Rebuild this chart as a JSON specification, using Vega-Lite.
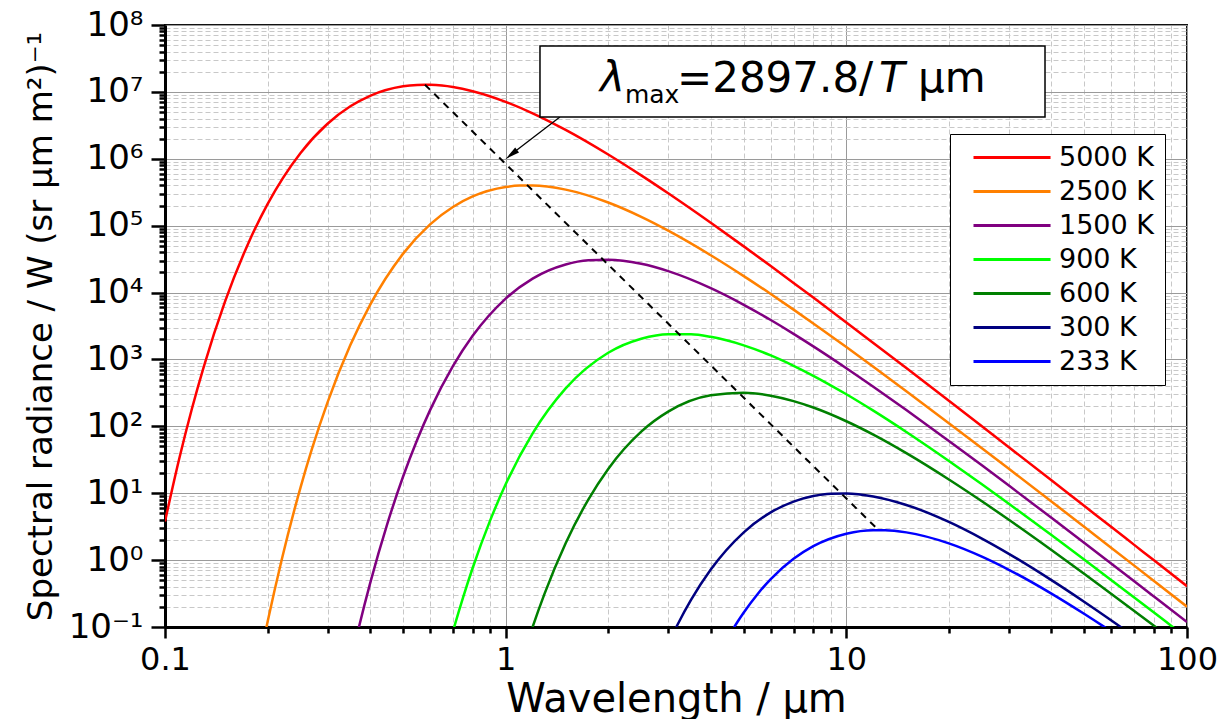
{
  "$schema": "https://vega.github.io/schema/vega-lite/v6.json",
  "width": 1022,
  "height": 602,
  "autosize": {"type": "none"},
  "padding": {"left": 165, "top": 25, "right": 44, "bottom": 92},
  "background": "white",
  "config": {
    "view": {"stroke": "#111111", "strokeWidth": 2},
    "font": "DejaVu Sans",
    "axis": {"labelFont": "DejaVu Sans", "titleFont": "DejaVu Sans", "labelColor": "black", "titleColor": "black", "titleFontWeight": "normal"}
  },
  "datasets": {
    "curves": [
      {"T": "5000 K", "lambda": 0.1, "B": 3.79},
      {"T": "5000 K", "lambda": 0.11, "B": 32.2},
      {"T": "5000 K", "lambda": 0.12, "B": 184.5},
      {"T": "5000 K", "lambda": 0.13, "B": 781.7},
      {"T": "5000 K", "lambda": 0.15, "B": 7310},
      {"T": "5000 K", "lambda": 0.175, "B": 52430},
      {"T": "5000 K", "lambda": 0.2, "B": 210000},
      {"T": "5000 K", "lambda": 0.25, "B": 1223000},
      {"T": "5000 K", "lambda": 0.3, "B": 3345000},
      {"T": "5000 K", "lambda": 0.35, "B": 6097000},
      {"T": "5000 K", "lambda": 0.4, "B": 8740000},
      {"T": "5000 K", "lambda": 0.5, "B": 12110000},
      {"T": "5000 K", "lambda": 0.55, "B": 12710000},
      {"T": "5000 K", "lambda": 0.58, "B": 12800000},
      {"T": "5000 K", "lambda": 0.6, "B": 12760000},
      {"T": "5000 K", "lambda": 0.65, "B": 12410000},
      {"T": "5000 K", "lambda": 0.7, "B": 11810000},
      {"T": "5000 K", "lambda": 0.8, "B": 10240000},
      {"T": "5000 K", "lambda": 1, "B": 7100000},
      {"T": "5000 K", "lambda": 1.2, "B": 4786000},
      {"T": "5000 K", "lambda": 1.5, "B": 2700000},
      {"T": "5000 K", "lambda": 2, "B": 1157000},
      {"T": "5000 K", "lambda": 2.5, "B": 564000},
      {"T": "5000 K", "lambda": 3, "B": 304500},
      {"T": "5000 K", "lambda": 4, "B": 110400},
      {"T": "5000 K", "lambda": 5, "B": 49000},
      {"T": "5000 K", "lambda": 6, "B": 24900},
      {"T": "5000 K", "lambda": 7, "B": 13940},
      {"T": "5000 K", "lambda": 8, "B": 8400},
      {"T": "5000 K", "lambda": 10, "B": 3572},
      {"T": "5000 K", "lambda": 12, "B": 1766},
      {"T": "5000 K", "lambda": 15, "B": 741.9},
      {"T": "5000 K", "lambda": 20, "B": 240.6},
      {"T": "5000 K", "lambda": 25, "B": 100},
      {"T": "5000 K", "lambda": 30, "B": 48.7},
      {"T": "5000 K", "lambda": 40, "B": 15.59},
      {"T": "5000 K", "lambda": 50, "B": 6.43},
      {"T": "5000 K", "lambda": 60, "B": 3.12},
      {"T": "5000 K", "lambda": 70, "B": 1.689},
      {"T": "5000 K", "lambda": 80, "B": 0.993},
      {"T": "5000 K", "lambda": 100, "B": 0.408},

      {"T": "2500 K", "lambda": 0.19, "B": 0.0337},
      {"T": "2500 K", "lambda": 0.2, "B": 0.1186},
      {"T": "2500 K", "lambda": 0.22, "B": 1.006},
      {"T": "2500 K", "lambda": 0.25, "B": 12.26},
      {"T": "2500 K", "lambda": 0.27, "B": 45.9},
      {"T": "2500 K", "lambda": 0.3, "B": 228.5},
      {"T": "2500 K", "lambda": 0.35, "B": 1638},
      {"T": "2500 K", "lambda": 0.4, "B": 6561},
      {"T": "2500 K", "lambda": 0.5, "B": 38200},
      {"T": "2500 K", "lambda": 0.6, "B": 104600},
      {"T": "2500 K", "lambda": 0.7, "B": 190500},
      {"T": "2500 K", "lambda": 0.8, "B": 273300},
      {"T": "2500 K", "lambda": 1, "B": 378400},
      {"T": "2500 K", "lambda": 1.1, "B": 397200},
      {"T": "2500 K", "lambda": 1.2, "B": 398800},
      {"T": "2500 K", "lambda": 1.5, "B": 345700},
      {"T": "2500 K", "lambda": 2, "B": 222000},
      {"T": "2500 K", "lambda": 2.5, "B": 135600},
      {"T": "2500 K", "lambda": 3, "B": 84400},
      {"T": "2500 K", "lambda": 4, "B": 36170},
      {"T": "2500 K", "lambda": 5, "B": 17630},
      {"T": "2500 K", "lambda": 6, "B": 9517},
      {"T": "2500 K", "lambda": 7, "B": 5556},
      {"T": "2500 K", "lambda": 8, "B": 3451},
      {"T": "2500 K", "lambda": 10, "B": 1530},
      {"T": "2500 K", "lambda": 12, "B": 778},
      {"T": "2500 K", "lambda": 15, "B": 335.4},
      {"T": "2500 K", "lambda": 20, "B": 111.6},
      {"T": "2500 K", "lambda": 25, "B": 47.1},
      {"T": "2500 K", "lambda": 30, "B": 23.17},
      {"T": "2500 K", "lambda": 40, "B": 7.52},
      {"T": "2500 K", "lambda": 50, "B": 3.125},
      {"T": "2500 K", "lambda": 60, "B": 1.521},
      {"T": "2500 K", "lambda": 70, "B": 0.827},
      {"T": "2500 K", "lambda": 80, "B": 0.4874},
      {"T": "2500 K", "lambda": 100, "B": 0.2011},

      {"T": "1500 K", "lambda": 0.35, "B": 0.0284},
      {"T": "1500 K", "lambda": 0.37, "B": 0.0946},
      {"T": "1500 K", "lambda": 0.4, "B": 0.448},
      {"T": "1500 K", "lambda": 0.45, "B": 3.57},
      {"T": "1500 K", "lambda": 0.5, "B": 17.77},
      {"T": "1500 K", "lambda": 0.55, "B": 63.1},
      {"T": "1500 K", "lambda": 0.6, "B": 174.7},
      {"T": "1500 K", "lambda": 0.7, "B": 793},
      {"T": "1500 K", "lambda": 0.8, "B": 2256},
      {"T": "1500 K", "lambda": 1, "B": 8131},
      {"T": "1500 K", "lambda": 1.2, "B": 16170},
      {"T": "1500 K", "lambda": 1.5, "B": 26240},
      {"T": "1500 K", "lambda": 1.75, "B": 30350},
      {"T": "1500 K", "lambda": 2, "B": 31010},
      {"T": "1500 K", "lambda": 2.5, "B": 26880},
      {"T": "1500 K", "lambda": 3, "B": 20880},
      {"T": "1500 K", "lambda": 4, "B": 11630},
      {"T": "1500 K", "lambda": 5, "B": 6560},
      {"T": "1500 K", "lambda": 6, "B": 3882},
      {"T": "1500 K", "lambda": 7, "B": 2413},
      {"T": "1500 K", "lambda": 8, "B": 1569},
      {"T": "1500 K", "lambda": 10, "B": 740},
      {"T": "1500 K", "lambda": 12, "B": 391},
      {"T": "1500 K", "lambda": 15, "B": 175.2},
      {"T": "1500 K", "lambda": 20, "B": 60.5},
      {"T": "1500 K", "lambda": 25, "B": 26.1},
      {"T": "1500 K", "lambda": 30, "B": 13.01},
      {"T": "1500 K", "lambda": 40, "B": 4.29},
      {"T": "1500 K", "lambda": 50, "B": 1.803},
      {"T": "1500 K", "lambda": 60, "B": 0.884},
      {"T": "1500 K", "lambda": 70, "B": 0.4828},
      {"T": "1500 K", "lambda": 80, "B": 0.2854},
      {"T": "1500 K", "lambda": 100, "B": 0.1183},

      {"T": "900 K", "lambda": 0.65, "B": 0.0214},
      {"T": "900 K", "lambda": 0.7, "B": 0.0855},
      {"T": "900 K", "lambda": 0.75, "B": 0.2775},
      {"T": "900 K", "lambda": 0.8, "B": 0.7615},
      {"T": "900 K", "lambda": 0.9, "B": 3.89},
      {"T": "900 K", "lambda": 1, "B": 13.58},
      {"T": "900 K", "lambda": 1.2, "B": 78.4},
      {"T": "900 K", "lambda": 1.5, "B": 368.8},
      {"T": "900 K", "lambda": 2, "B": 1258},
      {"T": "900 K", "lambda": 2.5, "B": 2040},
      {"T": "900 K", "lambda": 3, "B": 2388},
      {"T": "900 K", "lambda": 3.5, "B": 2379},
      {"T": "900 K", "lambda": 4, "B": 2177},
      {"T": "900 K", "lambda": 5, "B": 1624},
      {"T": "900 K", "lambda": 6, "B": 1147},
      {"T": "900 K", "lambda": 7, "B": 803.8},
      {"T": "900 K", "lambda": 8, "B": 570},
      {"T": "900 K", "lambda": 10, "B": 301.8},
      {"T": "900 K", "lambda": 12, "B": 171.6},
      {"T": "900 K", "lambda": 15, "B": 82.4},
      {"T": "900 K", "lambda": 20, "B": 30.4},
      {"T": "900 K", "lambda": 25, "B": 13.62},
      {"T": "900 K", "lambda": 30, "B": 6.96},
      {"T": "900 K", "lambda": 40, "B": 2.367},
      {"T": "900 K", "lambda": 50, "B": 1.012},
      {"T": "900 K", "lambda": 60, "B": 0.5018},
      {"T": "900 K", "lambda": 70, "B": 0.2762},
      {"T": "900 K", "lambda": 80, "B": 0.1643},
      {"T": "900 K", "lambda": 90, "B": 0.1037},
      {"T": "900 K", "lambda": 100, "B": 0.0687},

      {"T": "600 K", "lambda": 1.1, "B": 0.0252},
      {"T": "600 K", "lambda": 1.2, "B": 0.1003},
      {"T": "600 K", "lambda": 1.3, "B": 0.3128},
      {"T": "600 K", "lambda": 1.5, "B": 1.789},
      {"T": "600 K", "lambda": 1.75, "B": 8.12},
      {"T": "600 K", "lambda": 2, "B": 23.1},
      {"T": "600 K", "lambda": 2.5, "B": 83.2},
      {"T": "600 K", "lambda": 3, "B": 165.6},
      {"T": "600 K", "lambda": 4, "B": 290.5},
      {"T": "600 K", "lambda": 5, "B": 317.6},
      {"T": "600 K", "lambda": 6, "B": 286.8},
      {"T": "600 K", "lambda": 7, "B": 238.2},
      {"T": "600 K", "lambda": 8, "B": 191},
      {"T": "600 K", "lambda": 10, "B": 119.1},
      {"T": "600 K", "lambda": 12, "B": 75.1},
      {"T": "600 K", "lambda": 15, "B": 39.75},
      {"T": "600 K", "lambda": 20, "B": 16.06},
      {"T": "600 K", "lambda": 25, "B": 7.58},
      {"T": "600 K", "lambda": 30, "B": 4.005},
      {"T": "600 K", "lambda": 40, "B": 1.416},
      {"T": "600 K", "lambda": 50, "B": 0.6195},
      {"T": "600 K", "lambda": 60, "B": 0.3119},
      {"T": "600 K", "lambda": 70, "B": 0.1734},
      {"T": "600 K", "lambda": 80, "B": 0.104},
      {"T": "600 K", "lambda": 90, "B": 0.066},

      {"T": "300 K", "lambda": 3, "B": 0.0559},
      {"T": "300 K", "lambda": 3.2, "B": 0.11},
      {"T": "300 K", "lambda": 3.5, "B": 0.2538},
      {"T": "300 K", "lambda": 4, "B": 0.7223},
      {"T": "300 K", "lambda": 5, "B": 2.602},
      {"T": "300 K", "lambda": 6, "B": 5.175},
      {"T": "300 K", "lambda": 7, "B": 7.505},
      {"T": "300 K", "lambda": 8, "B": 9.078},
      {"T": "300 K", "lambda": 9, "B": 9.83},
      {"T": "300 K", "lambda": 10, "B": 9.92},
      {"T": "300 K", "lambda": 12, "B": 8.96},
      {"T": "300 K", "lambda": 15, "B": 6.68},
      {"T": "300 K", "lambda": 20, "B": 3.722},
      {"T": "300 K", "lambda": 25, "B": 2.099},
      {"T": "300 K", "lambda": 30, "B": 1.242},
      {"T": "300 K", "lambda": 40, "B": 0.502},
      {"T": "300 K", "lambda": 50, "B": 0.2368},
      {"T": "300 K", "lambda": 60, "B": 0.1252},
      {"T": "300 K", "lambda": 65, "B": 0.094},
      {"T": "300 K", "lambda": 70, "B": 0.072},

      {"T": "233 K", "lambda": 4.5, "B": 0.0709},
      {"T": "233 K", "lambda": 4.8, "B": 0.121},
      {"T": "233 K", "lambda": 5, "B": 0.165},
      {"T": "233 K", "lambda": 5.5, "B": 0.3149},
      {"T": "233 K", "lambda": 6, "B": 0.5194},
      {"T": "233 K", "lambda": 7, "B": 1.045},
      {"T": "233 K", "lambda": 8, "B": 1.616},
      {"T": "233 K", "lambda": 10, "B": 2.483},
      {"T": "233 K", "lambda": 12, "B": 2.803},
      {"T": "233 K", "lambda": 13, "B": 2.799},
      {"T": "233 K", "lambda": 15, "B": 2.598},
      {"T": "233 K", "lambda": 20, "B": 1.779},
      {"T": "233 K", "lambda": 25, "B": 1.127},
      {"T": "233 K", "lambda": 30, "B": 0.7172},
      {"T": "233 K", "lambda": 40, "B": 0.3159},
      {"T": "233 K", "lambda": 50, "B": 0.1563},
      {"T": "233 K", "lambda": 57, "B": 0.1013},
      {"T": "233 K", "lambda": 60, "B": 0.0851}
    ],
    "wien": [
      {"lambda": 0.5796, "B": 12800000},
      {"lambda": 12.44, "B": 2.8}
    ]
  },
  "layer": [
    {
      "data": {"name": "curves"},
      "mark": {"type": "line", "clip": true, "interpolate": "monotone", "strokeWidth": 2.5},
      "encoding": {
        "x": {
          "field": "lambda", "type": "quantitative",
          "scale": {"type": "log", "domain": [0.1, 100]},
          "axis": {
            "title": "Wavelength / μm",
            "values": [0.1,0.2,0.3,0.4,0.5,0.6,0.7,0.8,0.9,1,2,3,4,5,6,7,8,9,10,20,30,40,50,60,70,80,90,100],
            "labelExpr": "abs(log(datum.value)/LN10 - round(log(datum.value)/LN10)) < 0.000001 ? (datum.value < 0.5 ? '0.1' : format(datum.value, 'd')) : ''",
            "tickSize": {"condition": {"test": "abs(log(datum.value)/LN10 - round(log(datum.value)/LN10)) < 0.000001", "value": 11}, "value": 6},
            "tickWidth": 2.5,
            "tickColor": "black",
            "domainColor": "black",
            "domainWidth": 3,
            "gridColor": {"condition": {"test": "abs(log(datum.value)/LN10 - round(log(datum.value)/LN10)) < 0.000001", "value": "#9a9a9a"}, "value": "#c8c8c8"},
            "gridDash": {"condition": {"test": "abs(log(datum.value)/LN10 - round(log(datum.value)/LN10)) < 0.000001", "value": []}, "value": [5, 3]},
            "gridWidth": 1,
            "labelFontSize": 32,
            "labelPadding": 6,
            "labelOverlap": false,
            "labelFlush": false,
            "labelBound": false,
            "titleFontSize": 40,
            "titlePadding": 4
          }
        },
        "y": {
          "field": "B", "type": "quantitative",
          "scale": {"type": "log", "domain": [0.1, 100000000]},
          "axis": {
            "title": "Spectral radiance / W (sr μm m²)⁻¹",
            "values": [0.1,0.2,0.3,0.4,0.5,0.6,0.7,0.8,0.9,1,2,3,4,5,6,7,8,9,10,20,30,40,50,60,70,80,90,100,200,300,400,500,600,700,800,900,1000,2000,3000,4000,5000,6000,7000,8000,9000,10000,20000,30000,40000,50000,60000,70000,80000,90000,100000,200000,300000,400000,500000,600000,700000,800000,900000,1000000,2000000,3000000,4000000,5000000,6000000,7000000,8000000,9000000,10000000,20000000,30000000,40000000,50000000,60000000,70000000,80000000,90000000,100000000],
            "labelExpr": "abs(log(datum.value)/LN10 - round(log(datum.value)/LN10)) < 0.000001 ? '10' + ['⁻¹','⁰','¹','²','³','⁴','⁵','⁶','⁷','⁸'][round(log(datum.value)/LN10) + 1] : ''",
            "tickSize": {"condition": {"test": "abs(log(datum.value)/LN10 - round(log(datum.value)/LN10)) < 0.000001", "value": 14}, "value": 6},
            "tickWidth": 2.5,
            "tickColor": "black",
            "domainColor": "black",
            "domainWidth": 3,
            "gridColor": {"condition": {"test": "abs(log(datum.value)/LN10 - round(log(datum.value)/LN10)) < 0.000001", "value": "#9a9a9a"}, "value": "#c8c8c8"},
            "gridDash": {"condition": {"test": "abs(log(datum.value)/LN10 - round(log(datum.value)/LN10)) < 0.000001", "value": []}, "value": [5, 3]},
            "gridWidth": 1,
            "labelFontSize": 34,
            "labelPadding": 8,
            "labelOverlap": false,
            "labelFlush": false,
            "labelBound": false,
            "titleFontSize": 34,
            "titlePadding": 10
          }
        },
        "color": {
          "field": "T", "type": "nominal",
          "scale": {
            "domain": ["5000 K", "2500 K", "1500 K", "900 K", "600 K", "300 K", "233 K"],
            "range": ["#ff0000", "#ff8000", "#800080", "#00ff00", "#008000", "#000080", "#0000ff"]
          },
          "legend": {
            "title": null,
            "orient": "none",
            "legendX": 785,
            "legendY": 109,
            "fillColor": "white",
            "strokeColor": "black",
            "padding": 10,
            "symbolType": "M0,0L8,0",
            "symbolSize": 371,
            "symbolStrokeWidth": 3,
            "labelFont": "DejaVu Sans",
            "labelFontSize": 27,
            "labelColor": "black",
            "labelOffset": 72,
            "labelLimit": 300,
            "rowPadding": 6
          }
        }
      }
    },
    {
      "data": {"name": "wien"},
      "mark": {"type": "line", "color": "black", "strokeWidth": 2, "strokeDash": [7, 6]},
      "encoding": {
        "x": {"field": "lambda", "type": "quantitative", "scale": {"type": "log", "domain": [0.1, 100]}},
        "y": {"field": "B", "type": "quantitative", "scale": {"type": "log", "domain": [0.1, 100000000]}}
      }
    },
    {
      "data": {"values": [{}]},
      "mark": {"type": "rule", "color": "black", "strokeWidth": 1.3},
      "encoding": {
        "x": {"datum": 1.443, "type": "quantitative", "scale": {"type": "log", "domain": [0.1, 100]}},
        "y": {"datum": 4200000, "type": "quantitative", "scale": {"type": "log", "domain": [0.1, 100000000]}},
        "x2": {"datum": 1.03},
        "y2": {"datum": 1130000}
      }
    },
    {
      "data": {"values": [{}]},
      "mark": {"type": "point", "shape": "M0,-1L0.42,1L-0.42,1Z", "filled": true, "color": "black", "opacity": 1, "size": 220, "angle": 232},
      "encoding": {
        "x": {"datum": 1.0386, "type": "quantitative", "scale": {"type": "log", "domain": [0.1, 100]}},
        "y": {"datum": 1156000, "type": "quantitative", "scale": {"type": "log", "domain": [0.1, 100000000]}}
      }
    },
    {
      "data": {"values": [{}]},
      "mark": {"type": "rect", "fill": "white", "stroke": "black", "strokeWidth": 1.5},
      "encoding": {
        "x": {"datum": 1.261, "type": "quantitative", "scale": {"type": "log", "domain": [0.1, 100]}},
        "x2": {"datum": 38.3},
        "y": {"datum": 4200000, "type": "quantitative", "scale": {"type": "log", "domain": [0.1, 100000000]}},
        "y2": {"datum": 48400000}
      }
    },
    {
      "data": {"values": [{}]},
      "mark": {"type": "text", "text": "λ", "font": "DejaVu Sans", "fontSize": 42, "fontStyle": "italic", "align": "left", "baseline": "alphabetic", "color": "black"},
      "encoding": {
        "x": {"datum": 1.891, "type": "quantitative", "scale": {"type": "log", "domain": [0.1, 100]}},
        "y": {"datum": 10000000, "type": "quantitative", "scale": {"type": "log", "domain": [0.1, 100000000]}}
      }
    },
    {
      "data": {"values": [{}]},
      "mark": {"type": "text", "text": "max", "font": "DejaVu Sans", "fontSize": 25, "align": "left", "baseline": "alphabetic", "color": "black"},
      "encoding": {
        "x": {"datum": 2.239, "type": "quantitative", "scale": {"type": "log", "domain": [0.1, 100]}},
        "y": {"datum": 6790000, "type": "quantitative", "scale": {"type": "log", "domain": [0.1, 100000000]}}
      }
    },
    {
      "data": {"values": [{}]},
      "mark": {"type": "text", "text": "=2897.8/", "font": "DejaVu Sans", "fontSize": 42, "align": "left", "baseline": "alphabetic", "color": "black"},
      "encoding": {
        "x": {"datum": 3.183, "type": "quantitative", "scale": {"type": "log", "domain": [0.1, 100]}},
        "y": {"datum": 10000000, "type": "quantitative", "scale": {"type": "log", "domain": [0.1, 100000000]}}
      }
    },
    {
      "data": {"values": [{}]},
      "mark": {"type": "text", "text": "T", "font": "DejaVu Sans", "fontSize": 42, "fontStyle": "italic", "align": "left", "baseline": "alphabetic", "color": "black"},
      "encoding": {
        "x": {"datum": 12.47, "type": "quantitative", "scale": {"type": "log", "domain": [0.1, 100]}},
        "y": {"datum": 10000000, "type": "quantitative", "scale": {"type": "log", "domain": [0.1, 100000000]}}
      }
    },
    {
      "data": {"values": [{}]},
      "mark": {"type": "text", "text": "μm", "font": "DejaVu Sans", "fontSize": 42, "align": "left", "baseline": "alphabetic", "color": "black"},
      "encoding": {
        "x": {"datum": 16.23, "type": "quantitative", "scale": {"type": "log", "domain": [0.1, 100]}},
        "y": {"datum": 10000000, "type": "quantitative", "scale": {"type": "log", "domain": [0.1, 100000000]}}
      }
    }
  ]
}
